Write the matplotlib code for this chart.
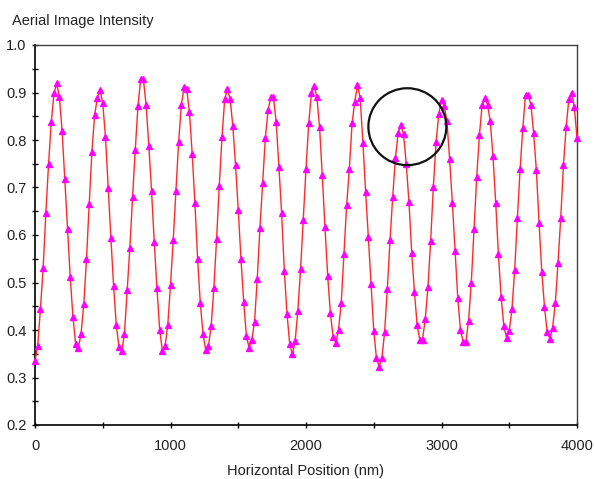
# Aerial image intensity profile

import matplotlib
matplotlib.use('Agg')
import matplotlib.pyplot as plt
from matplotlib.patches import Ellipse
from matplotlib.ticker import MultipleLocator

position_nm = [
    0, 20, 40, 60, 80, 100, 120, 140, 160, 180,
    200, 220, 240, 260, 280, 300, 320, 340, 360, 380,
    400, 420, 440, 460, 480, 500, 520, 540, 560, 580,
    600, 620, 640, 660, 680, 700, 720, 740, 760, 780,
    800, 820, 840, 860, 880, 900, 920, 940, 960, 980,
    1000, 1020, 1040, 1060, 1080, 1100, 1120, 1140, 1160, 1180,
    1200, 1220, 1240, 1260, 1280, 1300, 1320, 1340, 1360, 1380,
    1400, 1420, 1440, 1460, 1480, 1500, 1520, 1540, 1560, 1580,
    1600, 1620, 1640, 1660, 1680, 1700, 1720, 1740, 1760, 1780,
    1800, 1820, 1840, 1860, 1880, 1900, 1920, 1940, 1960, 1980,
    2000, 2020, 2040, 2060, 2080, 2100, 2120, 2140, 2160, 2180,
    2200, 2220, 2240, 2260, 2280, 2300, 2320, 2340, 2360, 2380,
    2400, 2420, 2440, 2460, 2480, 2500, 2520, 2540, 2560, 2580,
    2600, 2620, 2640, 2660, 2680, 2700, 2720, 2740, 2760, 2780,
    2800, 2820, 2840, 2860, 2880, 2900, 2920, 2940, 2960, 2980,
    3000, 3020, 3040, 3060, 3080, 3100, 3120, 3140, 3160, 3180,
    3200, 3220, 3240, 3260, 3280, 3300, 3320, 3340, 3360, 3380,
    3400, 3420, 3440, 3460, 3480, 3500, 3520, 3540, 3560, 3580,
    3600, 3620, 3640, 3660, 3680, 3700, 3720, 3740, 3760, 3780,
    3800, 3820, 3840, 3860, 3880, 3900, 3920, 3940, 3960, 3980,
    4000,
]

intensity = [
    0.335, 0.367, 0.444, 0.530, 0.646, 0.749, 0.837, 0.898, 0.919, 0.891,
    0.819, 0.717, 0.612, 0.511, 0.428, 0.370, 0.363, 0.392, 0.454, 0.549,
    0.665, 0.775, 0.853, 0.888, 0.906, 0.877, 0.807, 0.700, 0.594, 0.493,
    0.410, 0.364, 0.356, 0.392, 0.484, 0.573, 0.679, 0.780, 0.872, 0.928,
    0.928, 0.873, 0.788, 0.693, 0.585, 0.488, 0.401, 0.356, 0.366, 0.411,
    0.495, 0.589, 0.693, 0.796, 0.874, 0.911, 0.907, 0.858, 0.771, 0.668,
    0.549, 0.457, 0.391, 0.358, 0.366, 0.408, 0.488, 0.591, 0.704, 0.806,
    0.886, 0.907, 0.887, 0.829, 0.747, 0.653, 0.550, 0.460, 0.388, 0.363,
    0.380, 0.416, 0.507, 0.615, 0.710, 0.804, 0.863, 0.890, 0.890, 0.837,
    0.744, 0.646, 0.525, 0.433, 0.370, 0.349, 0.377, 0.441, 0.528, 0.632,
    0.740, 0.835, 0.899, 0.914, 0.891, 0.827, 0.726, 0.616, 0.514, 0.435,
    0.386, 0.373, 0.401, 0.457, 0.559, 0.663, 0.740, 0.835, 0.881, 0.916,
    0.888, 0.794, 0.691, 0.596, 0.497, 0.398, 0.341, 0.323, 0.341, 0.395,
    0.486, 0.589, 0.681, 0.762, 0.815, 0.831, 0.812, 0.749, 0.669, 0.563,
    0.481, 0.411, 0.378, 0.380, 0.423, 0.490, 0.588, 0.702, 0.796, 0.855,
    0.884, 0.872, 0.840, 0.759, 0.668, 0.567, 0.468, 0.400, 0.375, 0.375,
    0.420, 0.500, 0.613, 0.723, 0.811, 0.874, 0.888, 0.874, 0.839, 0.766,
    0.668, 0.559, 0.470, 0.408, 0.384, 0.398, 0.444, 0.526, 0.635, 0.738,
    0.825, 0.895, 0.895, 0.874, 0.814, 0.737, 0.625, 0.523, 0.449, 0.395,
    0.382, 0.405, 0.456, 0.542, 0.636, 0.747, 0.828, 0.886, 0.900, 0.870,
    0.804,
]

# circled region (annotation)
circle_center = (2748, 0.828)
circle_size = (575, 0.162)

plt.rcParams['font.family'] = ['Liberation Sans', 'DejaVu Sans']

W, H = 595, 479
fig = plt.figure(figsize=(W / 100, H / 100), dpi=100)
ax = fig.add_axes([35 / W, 1 - 425 / H, 542 / W, 380 / H])

ax.plot(position_nm, intensity, color='#ff2a2a', lw=1.0, marker='^',
        markersize=5, markerfacecolor='#ff00ff', markeredgecolor='#ff00ff',
        clip_on=False, zorder=3)

ax.add_patch(Ellipse(circle_center, circle_size[0], circle_size[1],
                     fill=False, edgecolor='#111111', lw=1.6, zorder=4))

ax.set_xlim(0, 4000)
ax.set_ylim(0.2, 1.0)
ax.xaxis.set_major_locator(MultipleLocator(1000))
ax.xaxis.set_minor_locator(MultipleLocator(500))
ax.yaxis.set_major_locator(MultipleLocator(0.1))
ax.yaxis.set_minor_locator(MultipleLocator(0.05))
ax.yaxis.set_major_formatter(lambda v, p: '%.1f' % v)

ax.tick_params(which='both', direction='inout', length=4, width=1,
               colors='black', labelsize=10.5, top=False, right=False)
ax.tick_params(axis='x', which='major', pad=8)
ax.tick_params(axis='y', which='major', pad=4)
for lab in ax.get_xticklabels() + ax.get_yticklabels():
    lab.set_color('#222222')

for s in ['left', 'bottom']:
    ax.spines[s].set_color('black')
    ax.spines[s].set_linewidth(1.2)
for s in ['top', 'right']:
    ax.spines[s].set_color('#404040')
    ax.spines[s].set_linewidth(1.0)

fig.text(12 / W, 1 - 25 / H, 'Aerial Image Intensity', fontsize=10.5,
         color='#222222', va='baseline', ha='left')
fig.text(306 / W, 1 - 475 / H, 'Horizontal Position (nm)', fontsize=10.5,
         color='#222222', va='baseline', ha='center')

fig.savefig('out.png', dpi=100)
